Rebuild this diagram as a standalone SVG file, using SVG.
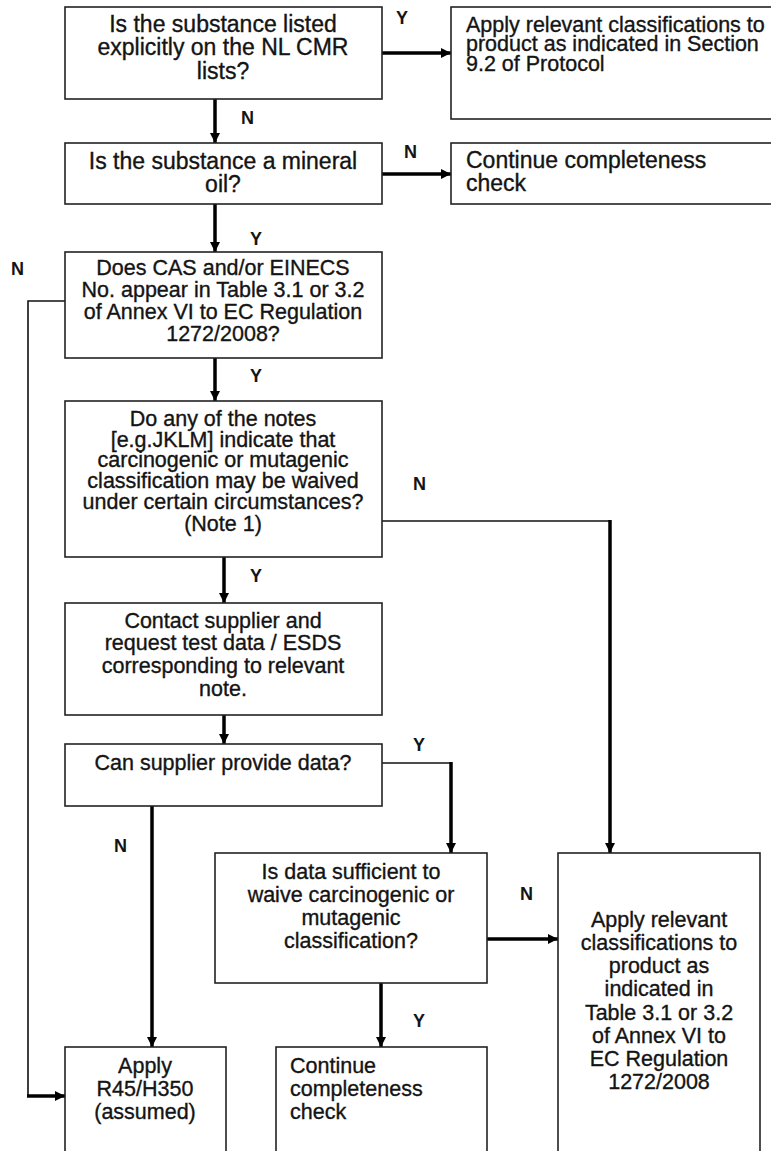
<svg xmlns="http://www.w3.org/2000/svg" width="771" height="1151" viewBox="0 0 771 1151">
  <style>
    .box { fill: #ffffff; stroke: #222222; stroke-width: 1.6; }
    .t { font-family: "Liberation Sans", Arial, sans-serif; fill: #141414; stroke: #141414; stroke-width: 0.35; }
    .big { font-size: 23px; }
    .mid { font-size: 21.5px; }
    .c { text-anchor: middle; }
    .lbl { font-family: "Liberation Sans", Arial, sans-serif; font-size: 18px; font-weight: bold; fill: #141414; }
    .thick { fill: none; stroke: #000000; stroke-width: 3.5; }
    .thin { fill: none; stroke: #111111; stroke-width: 1.6; }
  </style>
  <defs>
    <marker id="arrow" markerUnits="userSpaceOnUse" markerWidth="12" markerHeight="12" refX="10" refY="5.5" orient="auto">
      <path d="M0,0.5 L10,5.5 L0,10.5 Z" fill="#000000"/>
    </marker>
  </defs>
  <rect width="771" height="1151" fill="#ffffff"/>

  <!-- connectors -->
  <g id="connectors">
    <path class="thick" d="M382,53 H451" marker-end="url(#arrow)"/>
    <path class="thick" d="M215,99 V143" marker-end="url(#arrow)"/>
    <path class="thick" d="M382,174 H451" marker-end="url(#arrow)"/>
    <path class="thick" d="M215,204 V252" marker-end="url(#arrow)"/>
    <path class="thick" d="M215,358 V401" marker-end="url(#arrow)"/>
    <path class="thin" d="M65,301 H28 V1096"/>
    <path class="thick" d="M27,1096 H65" marker-end="url(#arrow)"/>
    <path class="thin" d="M382,521 H610"/>
    <path class="thick" d="M610,520 V853" marker-end="url(#arrow)"/>
    <path class="thick" d="M224,557 V603" marker-end="url(#arrow)"/>
    <path class="thick" d="M224,715 V744" marker-end="url(#arrow)"/>
    <path class="thin" d="M382,763 H451"/>
    <path class="thick" d="M451,762 V853" marker-end="url(#arrow)"/>
    <path class="thick" d="M152,806 V1047" marker-end="url(#arrow)"/>
    <path class="thick" d="M487,939 H558" marker-end="url(#arrow)"/>
    <path class="thick" d="M381,983 V1047" marker-end="url(#arrow)"/>

    <text class="lbl" x="396" y="24">Y</text>
    <text class="lbl" x="241" y="124">N</text>
    <text class="lbl" x="404" y="158">N</text>
    <text class="lbl" x="250" y="245">Y</text>
    <text class="lbl" x="11" y="275">N</text>
    <text class="lbl" x="250" y="382">Y</text>
    <text class="lbl" x="413" y="490">N</text>
    <text class="lbl" x="250" y="582">Y</text>
    <text class="lbl" x="413" y="751">Y</text>
    <text class="lbl" x="114" y="852">N</text>
    <text class="lbl" x="520" y="900">N</text>
    <text class="lbl" x="413" y="1027">Y</text>
  </g>

  <g id="n-listed">
    <rect class="box" x="65" y="7" width="317" height="92"/>
    <text class="t big c" x="223" y="32">Is the substance listed</text>
    <text class="t big c" x="223" y="55">explicitly on the NL CMR</text>
    <text class="t big c" x="223" y="79">lists?</text>
  </g>

  <g id="n-apply-protocol">
    <rect class="box" x="451" y="7" width="330" height="112"/>
    <text class="t mid" x="466" y="31.5">Apply relevant classifications to</text>
    <text class="t mid" x="466" y="51">product as indicated in Section</text>
    <text class="t mid" x="466" y="70.5">9.2 of Protocol</text>
  </g>

  <g id="n-mineral-oil">
    <rect class="box" x="65" y="143" width="317" height="61"/>
    <text class="t big c" x="223" y="169">Is the substance a mineral</text>
    <text class="t big c" x="223" y="192">oil?</text>
  </g>

  <g id="n-continue-top">
    <rect class="box" x="451" y="143" width="330" height="61"/>
    <text class="t big" x="466" y="168">Continue completeness</text>
    <text class="t big" x="466" y="191">check</text>
  </g>

  <g id="n-cas-einecs">
    <rect class="box" x="65" y="252" width="317" height="106"/>
    <text class="t mid c" x="223" y="275">Does CAS and/or EINECS</text>
    <text class="t mid c" x="223" y="297">No. appear in Table 3.1 or 3.2</text>
    <text class="t mid c" x="223" y="319">of Annex VI to EC Regulation</text>
    <text class="t mid c" x="223" y="341">1272/2008?</text>
  </g>

  <g id="n-notes">
    <rect class="box" x="65" y="401" width="317" height="156"/>
    <text class="t mid c" x="223" y="426">Do any of the notes</text>
    <text class="t mid c" x="223" y="447">[e.g.JKLM] indicate that</text>
    <text class="t mid c" x="223" y="467">carcinogenic or mutagenic</text>
    <text class="t mid c" x="223" y="488">classification may be waived</text>
    <text class="t mid c" x="223" y="509">under certain circumstances?</text>
    <text class="t mid c" x="223" y="531">(Note 1)</text>
  </g>

  <g id="n-contact-supplier">
    <rect class="box" x="65" y="603" width="317" height="112"/>
    <text class="t mid c" x="223" y="628">Contact supplier and</text>
    <text class="t mid c" x="223" y="650">request test data / ESDS</text>
    <text class="t mid c" x="223" y="673">corresponding to relevant</text>
    <text class="t mid c" x="223" y="696">note.</text>
  </g>

  <g id="n-provide-data">
    <rect class="box" x="65" y="744" width="317" height="62"/>
    <text class="t mid c" x="223" y="770">Can supplier provide data?</text>
  </g>

  <g id="n-data-sufficient">
    <rect class="box" x="215" y="853" width="272" height="130"/>
    <text class="t mid c" x="351" y="879">Is data sufficient to</text>
    <text class="t mid c" x="351" y="902">waive carcinogenic or</text>
    <text class="t mid c" x="351" y="925">mutagenic</text>
    <text class="t mid c" x="351" y="948">classification?</text>
  </g>

  <g id="n-apply-annex">
    <rect class="box" x="558" y="853" width="202" height="320"/>
    <text class="t mid c" x="659" y="927">Apply relevant</text>
    <text class="t mid c" x="659" y="950">classifications to</text>
    <text class="t mid c" x="659" y="973">product as</text>
    <text class="t mid c" x="659" y="996">indicated in</text>
    <text class="t mid c" x="659" y="1020">Table 3.1 or 3.2</text>
    <text class="t mid c" x="659" y="1043">of Annex VI to</text>
    <text class="t mid c" x="659" y="1066">EC Regulation</text>
    <text class="t mid c" x="659" y="1089">1272/2008</text>
  </g>

  <g id="n-apply-r45">
    <rect class="box" x="65" y="1047" width="161" height="130"/>
    <text class="t mid c" x="145" y="1073">Apply</text>
    <text class="t mid c" x="145" y="1096">R45/H350</text>
    <text class="t mid c" x="145" y="1119">(assumed)</text>
  </g>

  <g id="n-continue-bottom">
    <rect class="box" x="276" y="1047" width="211" height="130"/>
    <text class="t mid" x="290" y="1073">Continue</text>
    <text class="t mid" x="290" y="1096">completeness</text>
    <text class="t mid" x="290" y="1119">check</text>
  </g>
</svg>
